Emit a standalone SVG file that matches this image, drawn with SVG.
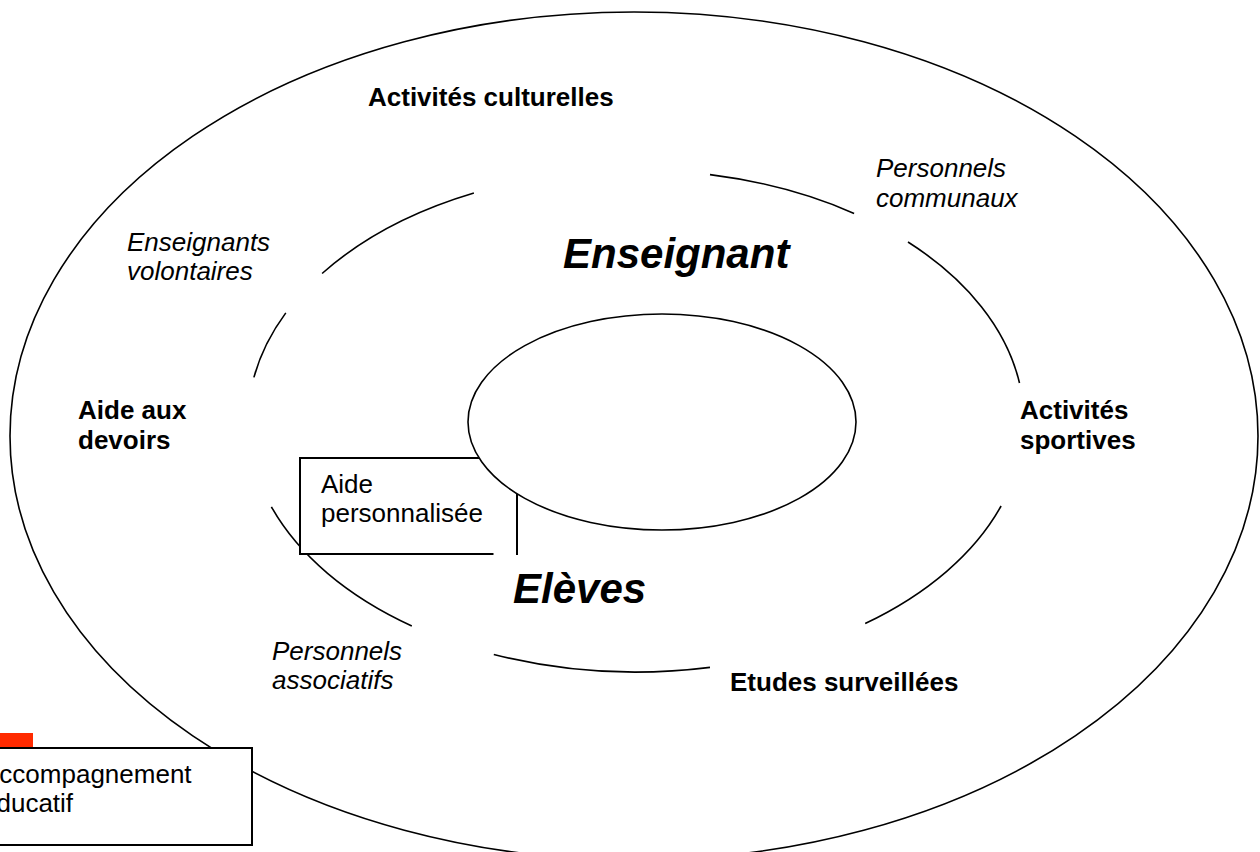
<svg xmlns="http://www.w3.org/2000/svg" width="1260" height="852" viewBox="0 0 1260 852">
<style>
.ln{fill:none;stroke:#000;stroke-width:1.6}
.box{fill:#fff;stroke:#000;stroke-width:2}
.t{font-family:"Liberation Sans",Arial,sans-serif;font-size:26px;fill:#000}
.b{font-weight:bold}
.i{font-style:italic}
.big{font-family:"Liberation Sans",Arial,sans-serif;font-size:42px;font-weight:bold;font-style:italic;fill:#000}
</style>
<rect width="1260" height="852" fill="#fff"/>
<g id="outer-ring">
<ellipse class="ln" cx="634" cy="436" rx="624" ry="424"/>
</g>
<g id="middle-ring">
<path class="ln" d="M253.9,377.4 A388,251 0 0 1 285.8,312.9"/>
<path class="ln" d="M322.1,273.5 A388,251 0 0 1 473.9,193.0"/>
<path class="ln" d="M710.0,174.6 A388,251 0 0 1 854.1,213.4"/>
<path class="ln" d="M908.0,242.0 A388,251 0 0 1 1019.5,383.0"/>
<path class="ln" d="M1001.1,506.0 A388,251 0 0 1 865.2,623.5"/>
<path class="ln" d="M710.0,667.4 A388,251 0 0 1 493.8,654.5"/>
<path class="ln" d="M411.8,625.9 A388,251 0 0 1 271.4,506.8"/>
</g>
<g id="aide-personnalisee">
<rect class="box" x="300" y="458" width="217" height="96"/>
<text class="t" x="321" y="493">Aide</text>
<text class="t" x="321" y="522">personnalisée</text>
</g>
<g id="inner-core">
<ellipse cx="662" cy="422" rx="194" ry="108" fill="#fff" stroke="#000" stroke-width="1.6"/>
</g>
<rect x="493.5" y="552" width="22.5" height="7" fill="#fff"/>
<g id="enseignant">
<text class="big" x="563" y="268">Enseignant</text>
</g>
<g id="eleves">
<text class="big" x="513" y="603">Elèves</text>
</g>
<g id="activites-culturelles">
<text class="t b" x="368" y="106">Activités culturelles</text>
</g>
<g id="personnels-communaux">
<text class="t i" x="876" y="177">Personnels</text>
<text class="t i" x="876" y="207">communaux</text>
</g>
<g id="enseignants-volontaires">
<text class="t i" x="127" y="251">Enseignants</text>
<text class="t i" x="127" y="280">volontaires</text>
</g>
<g id="aide-aux-devoirs">
<text class="t b" x="78" y="419">Aide aux</text>
<text class="t b" x="78" y="449">devoirs</text>
</g>
<g id="activites-sportives">
<text class="t b" x="1020" y="419">Activités</text>
<text class="t b" x="1020" y="449">sportives</text>
</g>
<g id="personnels-associatifs">
<text class="t i" x="272" y="660">Personnels</text>
<text class="t i" x="272" y="689">associatifs</text>
</g>
<g id="etudes-surveillees">
<text class="t b" x="730" y="691">Etudes surveillées</text>
</g>
<g id="accompagnement-educatif">
<rect x="0" y="733" width="33" height="15" fill="#ff2a00"/>
<rect class="box" x="-10" y="748" width="262" height="97"/>
<text class="t" x="-18" y="783">Accompagnement</text>
<text class="t" x="-18" y="812">éducatif</text>
</g>
</svg>
